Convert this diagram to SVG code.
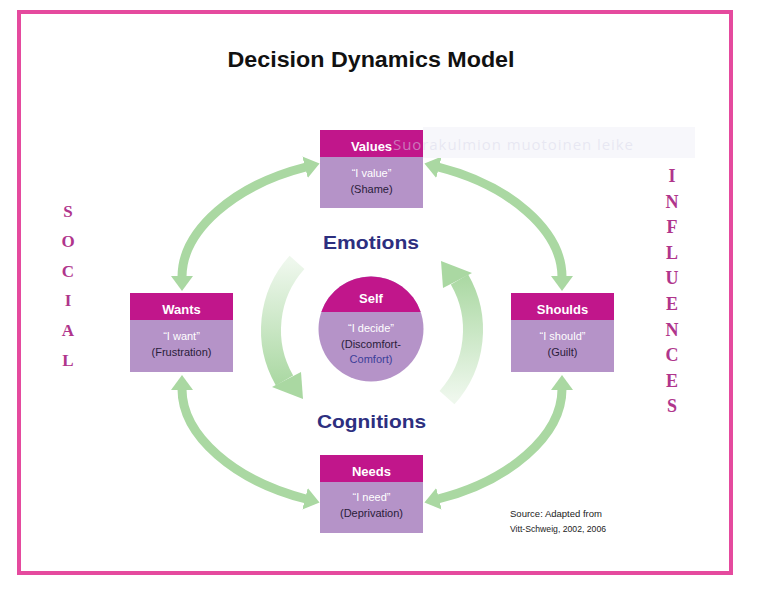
<svg xmlns="http://www.w3.org/2000/svg" width="766" height="597" viewBox="0 0 766 597">
<defs>
<style>
.hdr{fill:#c1168b}
.bdy{fill:#b593c8}
.th{font-family:"Liberation Sans",Arial,sans-serif;font-weight:bold;font-size:13px;fill:#fff;text-anchor:middle}
.tq{font-family:"Liberation Sans",Arial,sans-serif;font-size:11px;fill:#fff;text-anchor:middle}
.te{font-family:"Liberation Sans",Arial,sans-serif;font-size:11px;fill:#2a1c3a;text-anchor:middle}
.big{font-family:"Liberation Sans",Arial,sans-serif;font-weight:bold;font-size:19px;fill:#2d2f7f;text-anchor:middle}
.side{font-family:"Liberation Serif","Times New Roman",serif;font-weight:bold;fill:#b0358c;text-anchor:middle}
.oarr{fill:none;stroke:#aad8a2;stroke-width:9}
.src{font-family:"Liberation Sans",Arial,sans-serif;font-size:9.5px;fill:#222}
</style>
<marker id="ah" markerUnits="userSpaceOnUse" markerWidth="16" markerHeight="24" viewBox="0 0 16 24" refX="1" refY="12" orient="auto-start-reverse">
<path d="M0,1 L15,12 L0,23 Z" fill="#aad8a2"/>
</marker>
<linearGradient id="gl" gradientUnits="userSpaceOnUse" x1="0" y1="262" x2="0" y2="385">
<stop offset="0" stop-color="#aad8a2" stop-opacity="0.2"/>
<stop offset="1" stop-color="#aad8a2" stop-opacity="1"/>
</linearGradient>
</defs>
<rect x="0" y="0" width="766" height="597" fill="#fff"/>
<rect x="19" y="12" width="712" height="561" fill="none" stroke="#e54a9e" stroke-width="4"/>

<text x="371" y="67" font-family="'Liberation Sans',Arial,sans-serif" font-weight="bold" font-size="22" fill="#111" text-anchor="middle" textLength="287" lengthAdjust="spacingAndGlyphs">Decision Dynamics Model</text>

<g id="connectors">
<path class="oarr" d="M182,277 C182,230 235,185 306,167" marker-start="url(#ah)" marker-end="url(#ah)"/>
<path class="oarr" transform="matrix(-1,0,0,1,744,0)" d="M182,277 C182,230 235,185 306,167" marker-start="url(#ah)" marker-end="url(#ah)"/>
<path class="oarr" transform="matrix(1,0,0,-1,0,666)" d="M182,277 C182,230 235,185 306,167" marker-start="url(#ah)" marker-end="url(#ah)"/>
<path class="oarr" transform="matrix(-1,0,0,-1,744,666)" d="M182,277 C182,230 235,185 306,167" marker-start="url(#ah)" marker-end="url(#ah)"/>
<g id="cycle-left">
<path d="M297,262.4 A101,101 0 0 0 284.5,380.5" fill="none" stroke="url(#gl)" stroke-width="20"/>
<path d="M301,372 L272,387 L303,399 Z" fill="#aad8a2"/>
</g>
<g id="cycle-right" transform="rotate(180,372,330)">
<path d="M297,262.4 A101,101 0 0 0 284.5,380.5" fill="none" stroke="url(#gl)" stroke-width="20"/>
<path d="M301,372 L272,387 L303,399 Z" fill="#aad8a2"/>
</g>
</g>

<g id="watermark">
<rect x="423" y="127" width="272" height="31" fill="#f7f7fb"/>
</g>

<g id="values">
<rect class="hdr" x="320" y="130" width="103" height="27"/>
<rect class="bdy" x="320" y="157" width="103" height="51"/>
<text class="th" x="371.5" y="151">Values</text>
<text class="tq" x="371.5" y="176.5">“I value”</text>
<text class="te" x="371.5" y="192.5">(Shame)</text>
</g>

<text x="393" y="150" font-family="'Open Sans',sans-serif" font-size="15" fill="#d8d8ea" fill-opacity="0.5" textLength="240">Suorakulmion muotoinen leike</text>

<g id="wants">
<rect class="hdr" x="130" y="293" width="103" height="27"/>
<rect class="bdy" x="130" y="320" width="103" height="52"/>
<text class="th" x="181.5" y="314">Wants</text>
<text class="tq" x="181.5" y="340">“I want”</text>
<text class="te" x="181.5" y="356">(Frustration)</text>
</g>

<g id="shoulds">
<rect class="hdr" x="511" y="293" width="103" height="27"/>
<rect class="bdy" x="511" y="320" width="103" height="52"/>
<text class="th" x="562.5" y="314">Shoulds</text>
<text class="tq" x="562.5" y="340">“I should”</text>
<text class="te" x="562.5" y="356">(Guilt)</text>
</g>

<g id="needs">
<rect class="hdr" x="320" y="455" width="103" height="27"/>
<rect class="bdy" x="320" y="482" width="103" height="51"/>
<text class="th" x="371.5" y="476">Needs</text>
<text class="tq" x="371.5" y="501">“I need”</text>
<text class="te" x="371.5" y="517">(Deprivation)</text>
</g>

<g id="self">
<circle cx="371" cy="329" r="52.5" class="bdy"/>
<path class="hdr" d="M321.3,312 A52.5,52.5 0 0 1 420.7,312 Z"/>
<text class="th" x="371" y="303">Self</text>
<text class="tq" x="371" y="332">“I decide”</text>
<text class="te" x="371" y="348">(Discomfort-</text>
<text class="te" x="371" y="363" style="fill:#3c3e99">Comfort)</text>
</g>

<g id="emotions"><text class="big" x="371" y="249" textLength="96" lengthAdjust="spacingAndGlyphs">Emotions</text></g>
<g id="cognitions"><text class="big" x="371.5" y="428" textLength="109" lengthAdjust="spacingAndGlyphs">Cognitions</text></g>

<g id="social" class="side" font-size="17">
<text x="68" y="217">S</text>
<text x="68" y="247">O</text>
<text x="68" y="276.5">C</text>
<text x="68" y="306">I</text>
<text x="68" y="336">A</text>
<text x="68" y="366">L</text>
</g>

<g id="influences" class="side" font-size="18">
<text x="672" y="182">I</text>
<text x="672" y="207.6">N</text>
<text x="672" y="233.2">F</text>
<text x="672" y="258.8">L</text>
<text x="672" y="284.4">U</text>
<text x="672" y="310">E</text>
<text x="672" y="335.6">N</text>
<text x="672" y="361.2">C</text>
<text x="672" y="386.8">E</text>
<text x="672" y="412.4">S</text>
</g>

<g id="source">
<text class="src" x="510" y="517" textLength="92" lengthAdjust="spacingAndGlyphs">Source:  Adapted from</text>
<text class="src" x="510" y="532" textLength="96" lengthAdjust="spacingAndGlyphs">Vitt-Schweig, 2002, 2006</text>
</g>
</svg>
